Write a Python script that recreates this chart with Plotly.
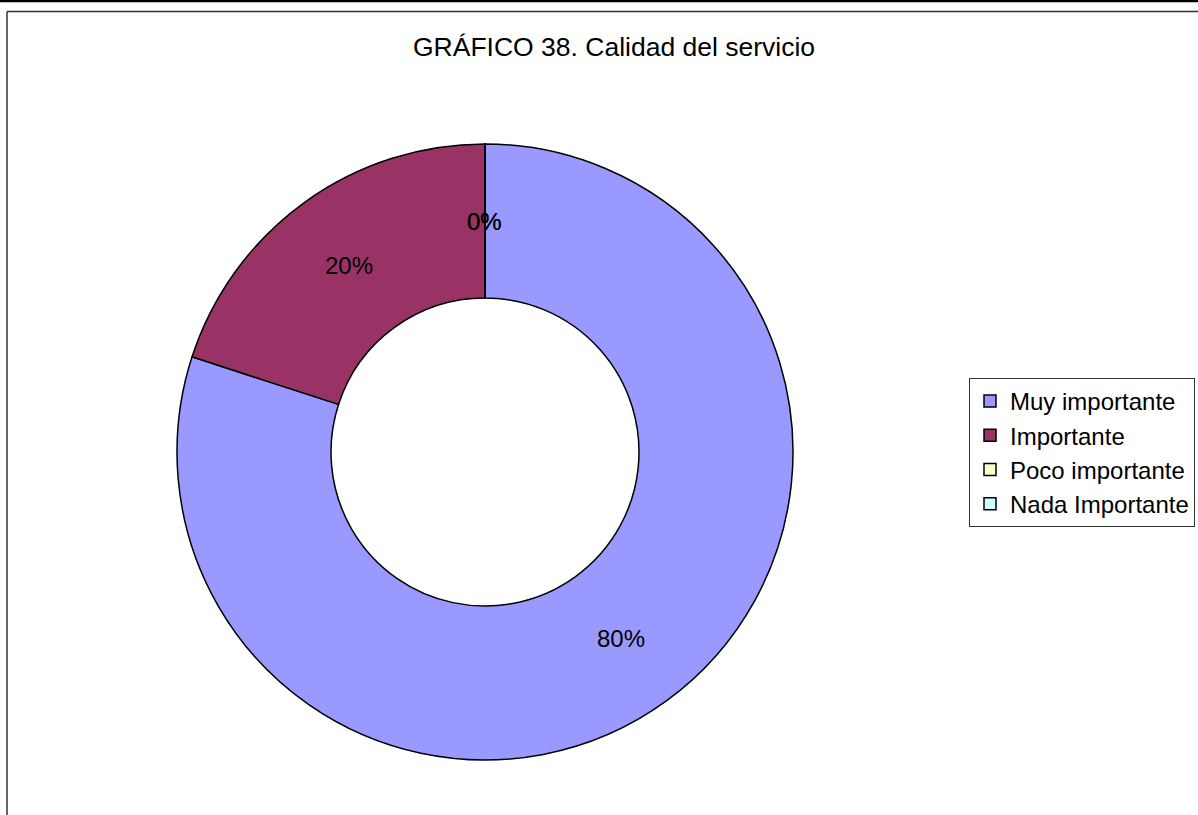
import math
import plotly.graph_objects as go

# Survey answers for "Calidad del servicio"
categories = ["Muy importante", "Importante", "Poco importante", "Nada Importante"]
values = [80, 20, 0, 0]
slice_colors = ["#9999FF", "#993366", "#FFFFCC", "#CCFFFF"]
title_text = "GRÁFICO 38. Calidad del servicio"

W, H = 1198, 815
FONT = "Liberation Sans, Arial, sans-serif"

# Donut placement in pixels (center and outer radius)
cx, cy, R = 485, 452, 308
hole = 0.5

dom_x = [(cx - R) / W, (cx + R) / W]
dom_y = [(H - cy - R) / H, (H - cy + R) / H]

fig = go.Figure(
    go.Pie(
        labels=categories,
        values=values,
        hole=hole,
        sort=False,
        direction="clockwise",
        rotation=0,
        marker=dict(colors=slice_colors, line=dict(color="#000000", width=1.5)),
        textinfo="none",
        hoverinfo="label+percent",
        domain=dict(x=dom_x, y=dom_y),
        showlegend=True,
    )
)

# Percentage labels at the middle of each ring segment (zero slices included)
total = sum(values)
r_mid = R * (1 + hole) / 2
annotations = []
cum = 0.0
for v in values:
    frac_mid = (cum + v / 2) / total
    theta = 2 * math.pi * frac_mid
    px = cx + r_mid * math.sin(theta)
    py = cy - r_mid * math.cos(theta)
    pct = round(100 * v / total)
    annotations.append(
        dict(
            x=px / W, y=1 - py / H, xref="paper", yref="paper",
            text=f"{pct}%", showarrow=False,
            font=dict(family=FONT, size=24, color="#000000"),
            xanchor="center", yanchor="middle",
        )
    )
    cum += v

# Chart title
annotations.append(
    dict(
        x=614.5 / W, y=1 - 47 / H, xref="paper", yref="paper",
        text=title_text, showarrow=False,
        font=dict(family=FONT, size=26.5, color="#000000"),
        xanchor="center", yanchor="middle",
    )
)

# Outer frame lines
shapes = [
    dict(type="line", xref="paper", yref="paper", x0=0, x1=1, y0=1 - 1 / H, y1=1 - 1 / H,
         line=dict(color="#000000", width=2.5)),
    dict(type="line", xref="paper", yref="paper", x0=7 / W, x1=1, y0=1 - 11.5 / H, y1=1 - 11.5 / H,
         line=dict(color="#333333", width=1.5)),
    dict(type="line", xref="paper", yref="paper", x0=7 / W, x1=7 / W, y0=0, y1=1 - 11.5 / H,
         line=dict(color="#333333", width=1.5)),
]

fig.update_layout(
    width=W,
    height=H,
    margin=dict(l=0, r=0, t=0, b=0),
    paper_bgcolor="#FFFFFF",
    plot_bgcolor="#FFFFFF",
    font=dict(family=FONT, color="#000000"),
    annotations=annotations,
    shapes=shapes,
    legend=dict(
        x=969 / W, y=1 - 378 / H, xanchor="left", yanchor="top",
        bordercolor="#333333", borderwidth=1,
        bgcolor="#FFFFFF",
        font=dict(family=FONT, size=24, color="#000000"),
        itemwidth=30,
        tracegroupgap=0,
    ),
)

fig.write_html("out.html")
